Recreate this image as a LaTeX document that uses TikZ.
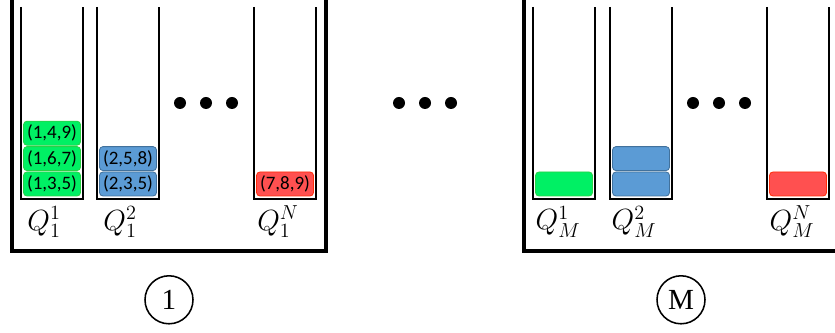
\documentclass[tikz,border=0pt]{standalone}
\usepackage{amsmath}
\usepackage{fontspec}
\newfontfamily\tuplefont{Carlito}
\newfontfamily\servfont{Liberation Serif}
\usepackage{tikz}
\usetikzlibrary{calc}

\definecolor{itemgreen}{RGB}{0,240,100}
\definecolor{itemgreenline}{RGB}{40,210,70}
\definecolor{itemblue}{RGB}{91,155,213}
\definecolor{itembluel}{RGB}{65,113,156}
\definecolor{itemred}{RGB}{255,80,80}
\definecolor{itemredline}{RGB}{255,45,10}

\tikzset{
  outerwall/.style={line width=2.2pt, line join=miter},
  queuewall/.style={line width=1.8pt, line join=miter},
  job/.style={minimum width=1.425cm, minimum height=0.6cm, inner sep=0pt,
    rounded corners=2.5pt, line width=0.6pt,
    font=\tuplefont\fontsize{13.5}{15}\selectfont},
  greenjob/.style={job, fill=itemgreen, draw=itemgreenline},
  bluejob/.style={job, fill=itemblue, draw=itembluel},
  redjob/.style={job, fill=itemred, draw=itemredline},
  qlabel/.style={font=\huge, inner sep=0pt},
  servlabel/.style={draw, circle, line width=1.1pt, minimum size=1.2cm,
    inner sep=0pt, font=\servfont\huge}
}

\begin{document}
\begin{tikzpicture}

\useasboundingbox (0,0) rectangle (20.875,8.325);
\clip (0,0) rectangle (20.875,8.325);

\def\qtop{8.15}
\def\qbot{3.35}
\def\qW{1.55}
\def\bbot{2.05}
\def\dotY{5.75}

% server 1
\draw[outerwall] (0.3,8.5) -- (0.3,\bbot) -- (8.15,\bbot) -- (8.15,8.5);

\draw[queuewall] (0.525,\qtop) -- (0.525,\qbot) -- (2.075,\qbot) -- (2.075,\qtop);
\draw[queuewall] (2.425,\qtop) -- (2.425,\qbot) -- (3.975,\qbot) -- (3.975,\qtop);
\draw[queuewall] (6.35,\qtop) -- (6.35,\qbot) -- (7.9,\qbot) -- (7.9,\qtop);

\node[greenjob] (j11a) at (1.3,3.725) {(1,3,5)};
\node[greenjob] (j11b) at (1.3,4.36) {(1,6,7)};
\node[greenjob] (j11c) at (1.3,4.995) {(1,4,9)};

\node[bluejob] (j12a) at (3.2,3.725) {(2,3,5)};
\node[bluejob] (j12b) at (3.2,4.36) {(2,5,8)};

\node[redjob] (j1N) at (7.125,3.725) {(7,8,9)};

\fill (4.5,\dotY) circle (0.15);
\fill (5.15,\dotY) circle (0.15);
\fill (5.8,\dotY) circle (0.15);

\node[qlabel] (q11) at (1.1,2.78) {$Q_1^1$};
\node[qlabel] (q12) at (3.0,2.78) {$Q_1^2$};
\node[qlabel] (q1N) at (6.95,2.78) {$Q_1^N$};

\node[servlabel] (s1) at (4.225,0.83) {1};

% between servers
\fill (9.975,\dotY) circle (0.15);
\fill (10.625,\dotY) circle (0.15);
\fill (11.275,\dotY) circle (0.15);

% server M
\draw[outerwall] (13.1,8.5) -- (13.1,\bbot) -- (20.95,\bbot) -- (20.95,8.5);

\draw[queuewall] (13.325,\qtop) -- (13.325,\qbot) -- (14.875,\qbot) -- (14.875,\qtop);
\draw[queuewall] (15.25,\qtop) -- (15.25,\qbot) -- (16.8,\qbot) -- (16.8,\qtop);
\draw[queuewall] (19.175,\qtop) -- (19.175,\qbot) -- (20.725,\qbot) -- (20.725,\qtop);

\node[greenjob] (jM1a) at (14.1,3.725) {};

\node[bluejob] (jM2a) at (16.025,3.725) {};
\node[bluejob] (jM2b) at (16.025,4.36) {};

\node[redjob] (jMN) at (19.95,3.725) {};

\fill (17.325,\dotY) circle (0.15);
\fill (17.975,\dotY) circle (0.15);
\fill (18.625,\dotY) circle (0.15);

\node[qlabel] (qM1) at (13.95,2.78) {$Q_M^1$};
\node[qlabel] (qM2) at (15.85,2.78) {$Q_M^2$};
\node[qlabel] (qMN) at (19.8,2.78) {$Q_M^N$};

\node[servlabel] (sM) at (17.025,0.83) {M};

\end{tikzpicture}
\end{document}
